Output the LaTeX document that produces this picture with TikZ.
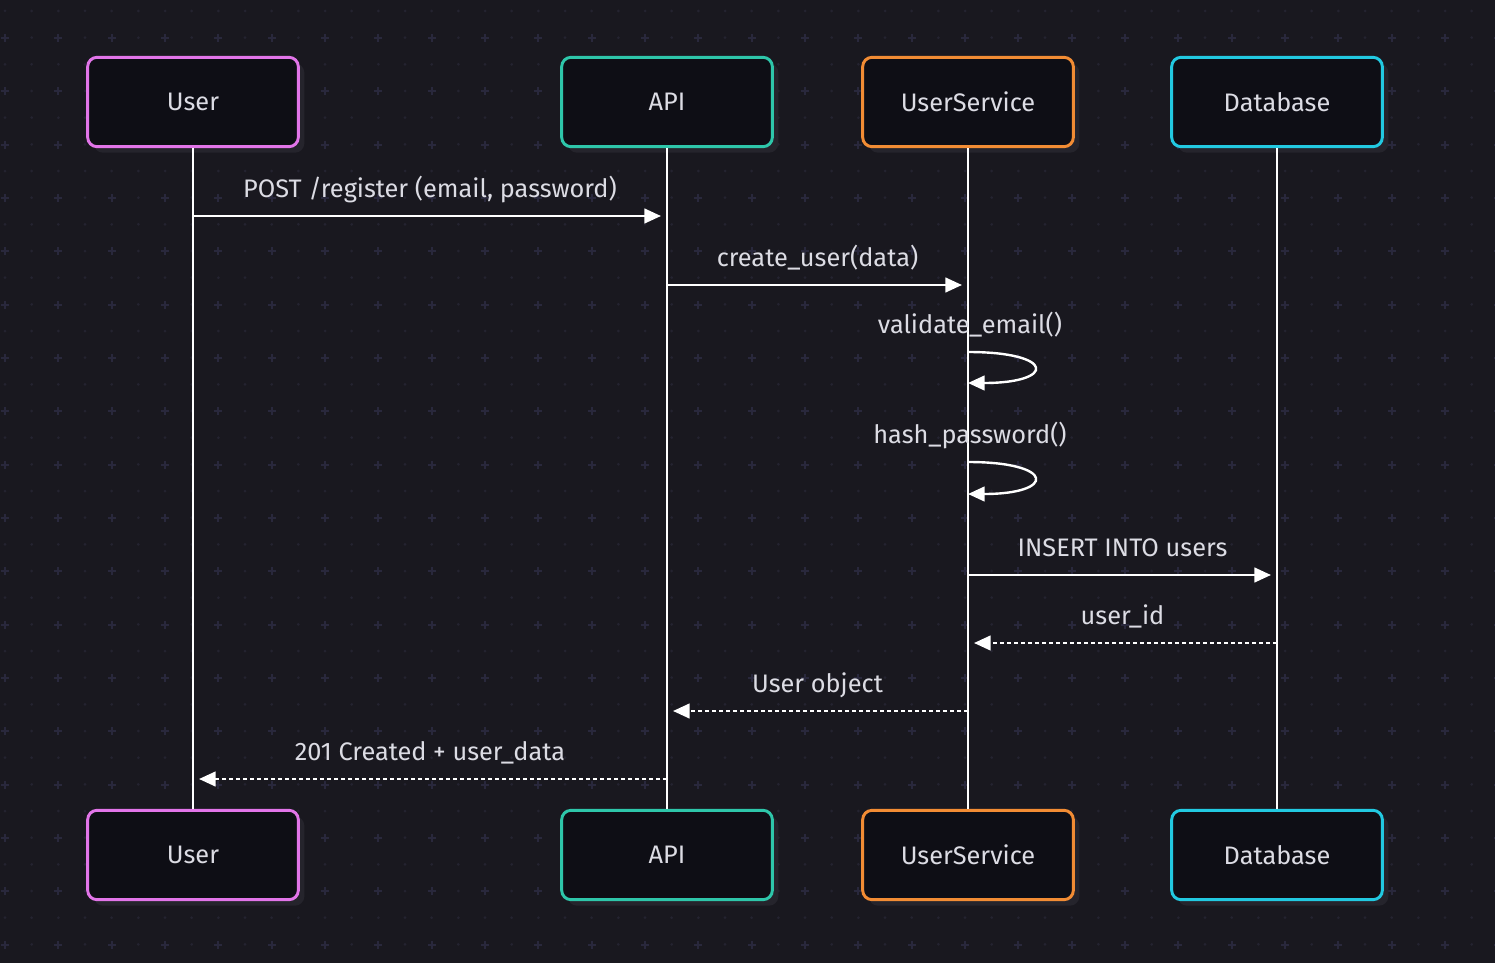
\documentclass[tikz,border=0pt]{standalone}
\usepackage{fontspec}
\setmainfont{Fira Sans}
\usetikzlibrary{arrows.meta,positioning,shadows}

\definecolor{bgc}{HTML}{19181F}
\definecolor{gridc}{HTML}{242330}
\definecolor{crossc}{HTML}{29283C}
\definecolor{boxfill}{HTML}{0E0E15}
\definecolor{shadowc}{HTML}{25242C}
\definecolor{txtc}{HTML}{DCDCE4}
\definecolor{userc}{HTML}{E275E9}
\definecolor{apic}{HTML}{2EC6AA}
\definecolor{svcc}{HTML}{F28C34}
\definecolor{dbc}{HTML}{22C9E1}

\begin{document}
\begin{tikzpicture}[x=0.75pt,y=-0.75pt,
  actor/.style={draw, line width=2.2pt, fill=boxfill, rounded corners=7pt,
    minimum width=158pt, minimum height=67pt, text=txtc,
    font=\fontsize{19}{22}\selectfont,
    general shadow={fill=shadowc, shadow xshift=4.5pt, shadow yshift=-4.5pt}},
  life/.style={draw=white, line width=2pt},
  msg/.style={draw=white, line width=1.8pt, -{Triangle[length=12.5pt,width=11pt]}, shorten >=4.5pt},
  ret/.style={msg, dash pattern=on 3pt off 2.25pt},
  self/.style={draw=white, line width=1.8pt, -{Triangle[length=12.5pt,width=11pt]}},
  lbl/.style={text=txtc, font=\fontsize{19}{22}\selectfont, anchor=base, yshift=14pt}]

  % background and grid
  \fill[bgc] (0,0) rectangle (1495,963);
  \useasboundingbox (0,0) rectangle (1495,963);
  \foreach \i in {0,...,56}
    \foreach \j in {0,...,36}
      \fill[gridc] (5+26.667*\i, 11+26.667*\j) circle (1.5);
  \foreach \i in {0,...,28}
    \foreach \j in {0,...,17}
      \draw[crossc, line width=1.3pt] (5+53.333*\i-4, 38+53.333*\j) -- ++(8,0)
        (5+53.333*\i, 38+53.333*\j-4) -- ++(0,8);

  % participants
  \node[actor, draw=userc] (userTop) at (193,102) {User};
  \node[actor, draw=apic] (apiTop) at (667,102) {API};
  \node[actor, draw=svcc] (svcTop) at (968,102) {UserService};
  \node[actor, draw=dbc] (dbTop) at (1277,102) {Database};
  \node[actor, draw=userc] (userBot) at (193,855) {User};
  \node[actor, draw=apic] (apiBot) at (667,855) {API};
  \node[actor, draw=svcc] (svcBot) at (968,855) {UserService};
  \node[actor, draw=dbc] (dbBot) at (1277,855) {Database};

  % lifelines
  \draw[life] (userTop) -- (userBot);
  \draw[life] (apiTop) -- (apiBot);
  \draw[life] (svcTop) -- (svcBot);
  \draw[life] (dbTop) -- (dbBot);

  % message rows
  \coordinate (m1) at (0,216);
  \coordinate (m2) at (0,285);
  \coordinate (s1a) at (0,352);
  \coordinate (s1b) at (0,383);
  \coordinate (s2a) at (0,462);
  \coordinate (s2b) at (0,494);
  \coordinate (m5) at (0,575);
  \coordinate (m6) at (0,643);
  \coordinate (m7) at (0,711);
  \coordinate (m8) at (0,779);

  \draw[msg] (userTop |- m1) -- node[midway, lbl] (l1) {POST /register (email, password)} (apiTop |- m1);
  \draw[msg] (apiTop |- m2) -- node[midway, lbl] (l2) {create\_user(data)} (svcTop |- m2);

  \node[lbl, xshift=1.5pt] (l3) at (svcTop |- s1a) {validate\_email()};
  \draw[self] (svcTop |- s1a) .. controls ([xshift=66pt]svcTop |- s1a) and ([xshift=66pt]svcTop |- s1b) .. (svcTop |- s1b);
  \node[lbl, xshift=1.5pt] (l4) at (svcTop |- s2a) {hash\_password()};
  \draw[self] (svcTop |- s2a) .. controls ([xshift=66pt]svcTop |- s2a) and ([xshift=66pt]svcTop |- s2b) .. (svcTop |- s2b);

  \draw[msg] (svcTop |- m5) -- node[midway, lbl] (l5) {INSERT INTO users} (dbTop |- m5);
  \draw[ret] (dbTop |- m6) -- node[midway, lbl] (l6) {user\_id} (svcTop |- m6);
  \draw[ret] (svcTop |- m7) -- node[midway, lbl] (l7) {User object} (apiTop |- m7);
  \draw[ret] (apiTop |- m8) -- node[midway, lbl] (l8) {201 Created + user\_data} (userTop |- m8);
\end{tikzpicture}
\end{document}
